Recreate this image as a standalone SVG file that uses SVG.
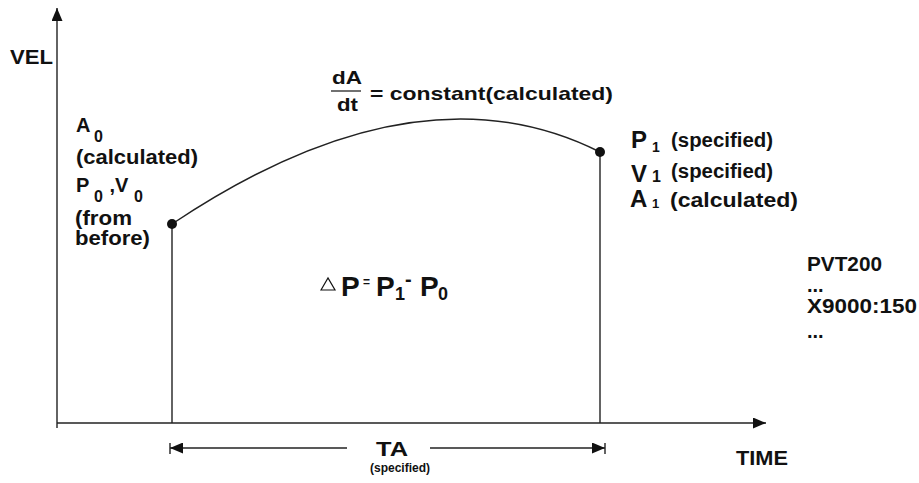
<svg xmlns="http://www.w3.org/2000/svg" width="919" height="483" viewBox="0 0 919 483">
<defs>
<style>
text{font-family:"Liberation Sans",Arial,sans-serif;font-weight:bold;fill:#111}
.ln{stroke:#222;stroke-width:1.4;fill:none}
.sub{font-size:16px}
</style>
<marker id="ah" viewBox="0 0 13 11" refX="13" refY="5.5" markerWidth="13" markerHeight="11" markerUnits="userSpaceOnUse" orient="auto-start-reverse">
<path d="M0,0 L13,5.5 L0,11 z" fill="#111"/>
</marker>
</defs>
<rect width="919" height="483" fill="#fff"/>
<g id="connectors">
<line class="ln" x1="57" y1="428" x2="57" y2="8" marker-end="url(#ah)"/>
<line class="ln" x1="57" y1="423" x2="766" y2="423" marker-end="url(#ah)"/>
<line class="ln" x1="172" y1="224" x2="172" y2="423"/>
<line class="ln" x1="600" y1="152" x2="600" y2="423"/>
<path class="ln" d="M172,224 Q417,60 600,152"/>
<line class="ln" x1="170" y1="448" x2="347" y2="448" marker-start="url(#ah)"/>
<line class="ln" x1="430" y1="448" x2="605" y2="448" marker-end="url(#ah)"/>
<line class="ln" x1="170" y1="443" x2="170" y2="454"/>
<line class="ln" x1="605" y1="443" x2="605" y2="454"/>
</g>
<g id="start-point">
<circle cx="172" cy="224" r="5" fill="#111"/>
<text x="76" y="132" font-size="20">A</text>
<text x="94" y="142" class="sub">0</text>
<text x="76" y="164" font-size="20" textLength="122" lengthAdjust="spacingAndGlyphs">(calculated)</text>
<text x="76" y="192" font-size="20">P</text>
<text x="94" y="202" class="sub">0</text>
<text x="104" y="192" font-size="20" xml:space="preserve"> ,V</text>
<text x="134" y="202" class="sub">0</text>
<text x="75" y="225" font-size="20" textLength="57" lengthAdjust="spacingAndGlyphs">(from</text>
<text x="75" y="245" font-size="20" textLength="75" lengthAdjust="spacingAndGlyphs">before)</text>
</g>
<g id="end-point">
<circle cx="600" cy="152" r="5" fill="#111"/>
<text x="631" y="148" font-size="24">P</text>
<text x="652" y="152" font-size="14">1</text>
<text x="671" y="147" font-size="20" textLength="102" lengthAdjust="spacingAndGlyphs">(specified)</text>
<text x="631" y="182" font-size="24">V</text>
<text x="652" y="182" font-size="16">1</text>
<text x="671" y="178" font-size="20" textLength="102" lengthAdjust="spacingAndGlyphs">(specified)</text>
<text x="630" y="207" font-size="24">A</text>
<text x="652" y="208" font-size="13">1</text>
<text x="670" y="207" font-size="20" textLength="128" lengthAdjust="spacingAndGlyphs">(calculated)</text>
</g>
<g id="derivative">
<text x="332" y="84" font-size="19" textLength="30" lengthAdjust="spacingAndGlyphs">dA</text>
<line x1="331" y1="91" x2="361" y2="91" stroke="#111" stroke-width="1.2"/>
<text x="337" y="111" font-size="19" textLength="21" lengthAdjust="spacingAndGlyphs">dt</text>
<text x="370" y="100" font-size="19" textLength="243" lengthAdjust="spacingAndGlyphs">= constant(calculated)</text>
</g>
<g id="delta-p">
<polygon points="321,290 328,278 335,290" fill="none" stroke="#111" stroke-width="1.2"/>
<text x="341" y="296" font-size="28">P</text>
<text x="363" y="286" font-size="12">=</text>
<text x="376" y="296" font-size="28">P</text>
<text x="395" y="300" font-size="18">1</text>
<text x="405" y="286" font-size="20">-</text>
<text x="420" y="296" font-size="28">P</text>
<text x="438" y="300" font-size="18">0</text>
</g>
<g id="axis-labels">
<text x="10" y="64" font-size="20" textLength="43" lengthAdjust="spacingAndGlyphs">VEL</text>
<text x="736" y="465" font-size="20" textLength="52" lengthAdjust="spacingAndGlyphs">TIME</text>
</g>
<g id="ta">
<text x="376" y="456" font-size="20" textLength="32" lengthAdjust="spacingAndGlyphs">TA</text>
<text x="370" y="472" font-size="12">(specified)</text>
</g>
<g id="program">
<text x="807" y="271" font-size="20" textLength="75" lengthAdjust="spacingAndGlyphs">PVT200</text>
<text x="807" y="292" font-size="20">...</text>
<text x="807" y="313" font-size="20" textLength="110" lengthAdjust="spacingAndGlyphs">X9000:150</text>
<text x="807" y="338" font-size="20">...</text>
</g>
</svg>
